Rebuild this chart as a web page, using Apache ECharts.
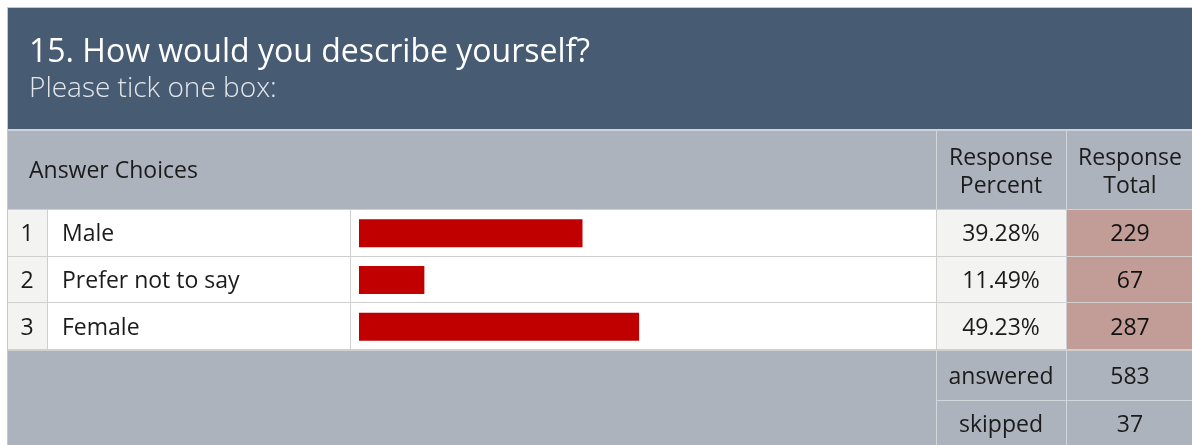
<!DOCTYPE html>
<html>
<head>
<meta charset="utf-8">
<script src="https://cdn.jsdelivr.net/npm/echarts@6/dist/echarts.min.js"></script>
<style>
  html, body { margin: 0; padding: 0; background: #ffffff; }
  #container { width: 1192px; height: 445px; }
</style>
</head>
<body>
<div id="container"></div>
<script>
var questionTitle = '15. How would you describe yourself?';
var questionSubtitle = 'Please tick one box:';
var answerChoices = ['Male', 'Prefer not to say', 'Female'];
var responsePercent = [39.28, 11.49, 49.23];
var responseTotal = [229, 67, 287];
var answeredCount = 583;
var skippedCount = 37;

var myChart;
var FONT = 'Open Sans';
var TEXT_COLOR = '#1b1b1b';
var BODY_SIZE = 23;
var DY = 1.5; // optical nudge for vertically centred text

// row geometry of the table body
var bodyTop = 210;
var rowHeight = 46.67;

function rect(x, y, w, h, fill, z) {
    return { type: 'rect', shape: { x: x, y: y, width: w, height: h }, style: { fill: fill }, z: z || 0, silent: true };
}

function label(text, x, y, size, align, color, weight) {
    return {
        type: 'text', x: x, y: y + DY, z: 10, silent: true,
        style: {
            text: text, fill: color || TEXT_COLOR, fontFamily: FONT, fontSize: size,
            fontWeight: weight || 'normal', textAlign: align || 'left', textVerticalAlign: 'middle'
        }
    };
}

function buildGraphic() {
    var g = [];
    // outer border + blocks
    g.push(rect(7, 7, 1185, 438, '#c8c8c8', 0));
    g.push(rect(8, 8, 1184, 121, '#475b73', 1));
    g.push(rect(8, 129, 1184, 2, '#cfd3d7', 1));
    g.push(rect(8, 131, 1184, 78, '#acb3bc', 1));
    g.push(rect(8, 209, 1184, 142, '#cfcfcf', 1));
    g.push(rect(8, 351, 1184, 94, '#acb3bc', 1));

    // body cells
    answerChoices.forEach(function (name, i) {
        var y = Math.round(bodyTop + i * rowHeight);
        var h = Math.round(bodyTop + (i + 1) * rowHeight) - y - 1;
        g.push(rect(8, y, 39, h, '#f3f3f2', 2));
        g.push(rect(48, y, 302, h, '#ffffff', 2));
        g.push(rect(351, y, 585, h, '#ffffff', 2));
        g.push(rect(937, y, 129, h, '#f3f3f2', 2));
        g.push(rect(1067, y, 125, h, '#c29c97', 2));
        var cy = bodyTop + (i + 0.5) * rowHeight;
        g.push(label(String(i + 1), 27, cy, BODY_SIZE, 'center'));
        g.push(label(name, 62, cy, BODY_SIZE, 'left'));
        g.push(label(responsePercent[i].toFixed(2) + '%', 1001, cy, BODY_SIZE, 'center'));
        g.push(label(String(responseTotal[i]), 1130, cy, BODY_SIZE, 'center', '#111111'));
    });

    // header separators
    g.push(rect(936, 131, 1, 78, '#d3d7db', 3));
    g.push(rect(1066, 131, 1, 78, '#d3d7db', 3));
    // footer separators
    g.push(rect(936, 351, 1, 94, '#d3d7db', 3));
    g.push(rect(1066, 351, 1, 94, '#d3d7db', 3));
    g.push(rect(937, 400, 255, 1, '#d3d7db', 3));

    // texts
    g.push(label(questionTitle, 29, 51, 32, 'left', '#ffffff'));
    g.push(label(questionSubtitle, 29, 88, 28, 'left', '#e3e7ec', 300));
    g.push(label('Answer Choices', 29, 170, BODY_SIZE, 'left'));
    g.push(label('Response', 1001, 157, BODY_SIZE, 'center'));
    g.push(label('Percent', 1001, 185, BODY_SIZE, 'center'));
    g.push(label('Response', 1130, 157, BODY_SIZE, 'center'));
    g.push(label('Total', 1130, 185, BODY_SIZE, 'center'));
    g.push(label('answered', 1001, 376, BODY_SIZE, 'center'));
    g.push(label(String(answeredCount), 1130, 376, BODY_SIZE, 'center'));
    g.push(label('skipped', 1001, 424, BODY_SIZE, 'center'));
    g.push(label(String(skippedCount), 1130, 424, BODY_SIZE, 'center'));
    return g;
}

function initChart() {
    var dom = document.getElementById('container');
    myChart = echarts.init(dom, null, { renderer: 'canvas' });

    var option = {
        animation: false,
        graphic: buildGraphic(),
        grid: { left: 359, top: bodyTop, width: 569, height: rowHeight * 3, containLabel: false, z: 5 },
        xAxis: { type: 'value', min: 0, max: 100, show: false },
        yAxis: { type: 'category', data: answerChoices, inverse: true, show: false },
        series: [{
            type: 'bar',
            data: responsePercent,
            barWidth: 28,
            z: 6,
            itemStyle: { color: '#c00000' },
            silent: true
        }]
    };
    myChart.setOption(option);
}

initChart();
</script>
</body>
</html>
